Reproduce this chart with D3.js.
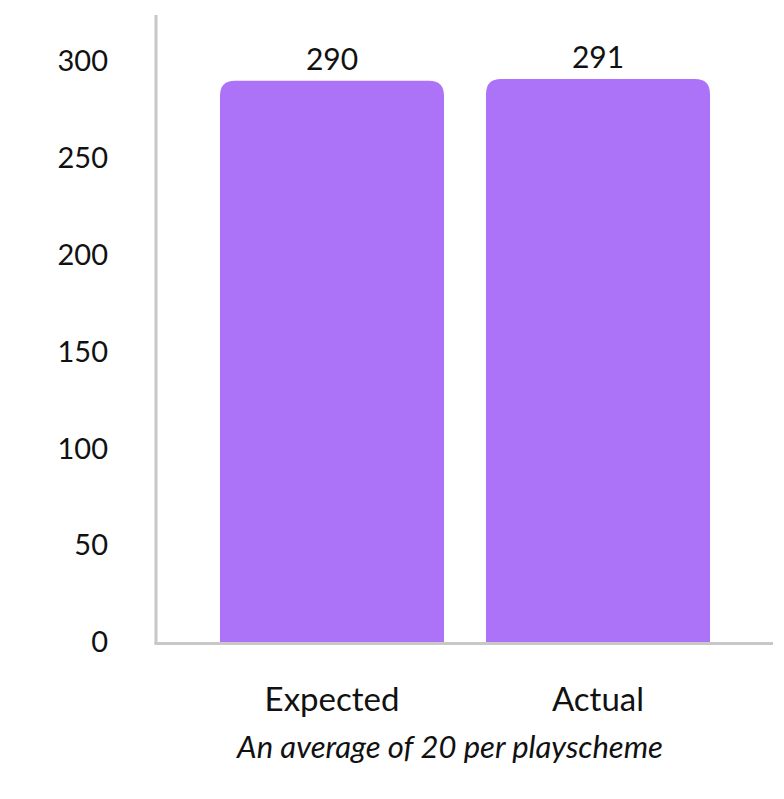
<!DOCTYPE html>
<html><head><meta charset="utf-8">
<script src="https://cdn.jsdelivr.net/npm/d3@7"></script>
<style>body{margin:0;background:#fff}svg{display:block}text{font-family:"Source Sans Pro","Lato","Noto Sans",sans-serif;fill:#111}</style>
</head><body><svg id="c" width="784" height="799"></svg>
<script>
const categories = ["Expected", "Actual"];
const values = [290, 291];
const yTicks = [0, 50, 100, 150, 200, 250, 300];
const subtitle = "An average of 20 per playscheme";

const svg = d3.select("#c");
const x0 = 156, x1 = 773, yBottom = 642.5, yTop = 15;
const x = d3.scaleBand().domain(categories).range([220, 710]).paddingInner(42/266).paddingOuter(0);
const y = d3.scaleLinear().domain([0, 324]).range([yBottom, yTop]);

const r = 15;
svg.selectAll("path.bar").data(values).join("path").attr("class","bar")
  .attr("fill", "#ac73f8")
  .attr("d", (d,i) => {
    const bx = x(categories[i]), bw = x.bandwidth(), by = y(d), bb = y(0);
    return `M${bx},${bb}V${by+r}Q${bx},${by} ${bx+r},${by}H${bx+bw-r}Q${bx+bw},${by} ${bx+bw},${by+r}V${bb}Z`;
  });

svg.selectAll("text.val").data(values).join("text").attr("class","val")
  .attr("x", (d,i) => x(categories[i]) + x.bandwidth()/2)
  .attr("y", d => y(d) - 11)
  .attr("text-anchor","middle").attr("font-size", 30).text(d => d);

const yAxis = d3.axisLeft(y).tickValues(yTicks).tickSize(0).tickPadding(48);
const gy = svg.append("g").attr("transform", `translate(${x0},0)`).call(yAxis);
gy.select(".domain").remove();
gy.selectAll("text").attr("font-size", 29).attr("dy", "0.32em").style("fill","#111");

svg.append("line").attr("x1", x0).attr("x2", x0).attr("y1", yTop).attr("y2", yBottom + 1.5)
  .attr("stroke", "#c8c8c8").attr("stroke-width", 3);
svg.append("line").attr("x1", x0 - 1.5).attr("x2", x1).attr("y1", yBottom + 1).attr("y2", yBottom + 1)
  .attr("stroke", "#c8c8c8").attr("stroke-width", 3);

const xAxis = d3.axisBottom(x).tickSize(0).tickPadding(45);
const gx = svg.append("g").attr("transform", `translate(0,${yBottom})`).call(xAxis);
gx.select(".domain").remove();
gx.selectAll("text").attr("font-size", 33).style("fill","#111");

svg.append("text").attr("x", 450).attr("y", 758).attr("text-anchor","middle")
  .attr("font-size", 31).attr("font-style","italic").text(subtitle);
</script></body></html>
